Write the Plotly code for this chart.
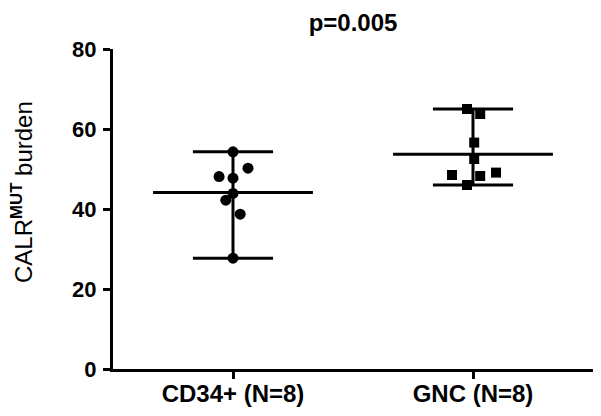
import numpy as np
import plotly.graph_objects as go

categories = ["CD34+ (N=8)", "GNC (N=8)"]
cd34_values = [54.3, 50.2, 48.1, 47.7, 43.9, 42.2, 38.7, 27.7]
cd34_jitter = [0.0, 0.0625, -0.058, 0.0, 0.0, -0.03, 0.03, 0.0]
gnc_values = [65.0, 63.75, 56.6, 52.5, 48.5, 48.25, 49.1, 46.0]
gnc_jitter = [-0.025, 0.03, 0.005, 0.005, -0.0875, 0.03, 0.096, -0.025]
y_ticks = [0, 20, 40, 60, 80]
p_label = "p=0.005"
y_title = "CALR<b><sup>MUT</sup></b> burden"

fig = go.Figure()
groups = [(0, cd34_values, cd34_jitter, "circle"), (1, gnc_values, gnc_jitter, "square")]
black = "#000000"
LW = 3
for xc, vals, jit, sym in groups:
    v = np.array(vals)
    mean, lo, hi = v.mean(), v.min(), v.max()
    fig.add_trace(go.Scatter(x=[xc, xc], y=[lo, hi], mode="lines",
                             line=dict(color=black, width=LW), showlegend=False, hoverinfo="skip"))
    for yv in (lo, hi):
        fig.add_trace(go.Scatter(x=[xc - 0.167, xc + 0.167], y=[yv, yv], mode="lines",
                                 line=dict(color=black, width=LW), showlegend=False, hoverinfo="skip"))
    fig.add_trace(go.Scatter(x=[xc - 0.333, xc + 0.333], y=[mean, mean], mode="lines",
                             line=dict(color=black, width=LW), showlegend=False, hoverinfo="skip"))
    fig.add_trace(go.Scatter(x=[xc + j for j in jit], y=vals, mode="markers",
                             marker=dict(symbol=sym, size=11 if sym == "circle" else 10, color=black),
                             showlegend=False))

fig.add_annotation(text=y_title, textangle=-90, xref="paper", yref="paper",
                   x=-(113 - 22) / 480, y=(369 - 192) / 320, xanchor="center", yanchor="middle",
                   showarrow=False, font=dict(size=24, color=black))

# page body has an 8px margin; margins compensate so the plot lands where the reference has it
fig.update_layout(
    width=601, height=416,
    margin=dict(l=105, r=16, t=41, b=55, autoexpand=False),
    paper_bgcolor="white", plot_bgcolor="white",
    font=dict(family="Liberation Sans, Arial, sans-serif", color=black),
    title=dict(text="<b>" + p_label + "</b>", x=0.5, xref="paper", xanchor="center",
               y=1 - 15 / 416, yanchor="middle", font=dict(size=24)),
    xaxis=dict(range=[-0.5, 1.5], tickvals=[0, 1], ticktext=["<b>" + c + "</b>" for c in categories],
               showline=True, linecolor=black, linewidth=LW, ticks="outside", ticklen=7,
               tickwidth=LW, tickcolor=black, showgrid=False, zeroline=False, automargin=False,
               tickfont=dict(size=24), ticklabelstandoff=-6),
    yaxis=dict(range=[0, 80], tickvals=y_ticks, ticktext=["<b>%d</b>" % t for t in y_ticks],
               showline=True, linecolor=black, linewidth=LW, ticks="outside", ticklen=7,
               tickwidth=LW, tickcolor=black, showgrid=False, zeroline=False, automargin=False,
               tickfont=dict(size=22), ticklabelstandoff=2),
)

fig.write_html("out.html")
